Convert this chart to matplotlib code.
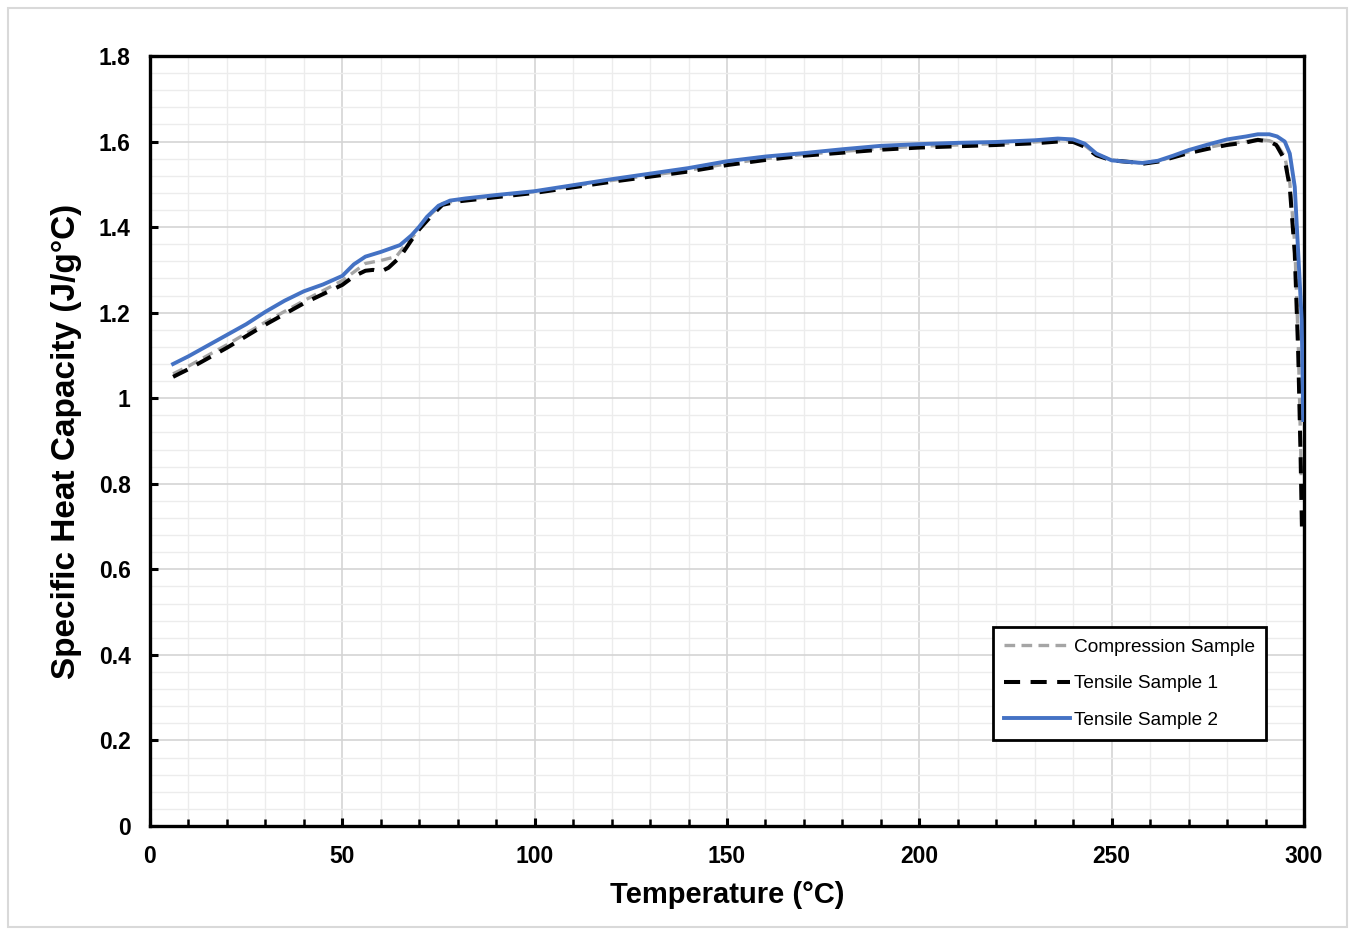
import matplotlib
matplotlib.use("Agg")
import matplotlib.pyplot as plt
from matplotlib.ticker import MultipleLocator, FuncFormatter
from matplotlib.patches import Rectangle

plt.rcParams['font.family'] = ['Liberation Sans', 'DejaVu Sans']

# ---- data ----
t2_T = [6, 10, 15, 20, 25, 30, 35, 40, 45, 50, 53, 56, 60, 65, 68, 70, 72, 75, 78, 82,
        90, 100, 110, 120, 130, 140, 150, 160, 170, 180, 190, 200, 210, 220, 230, 236,
        240, 243, 246, 250, 255, 258, 262, 266, 270, 275, 280, 285, 288, 291, 293, 295,
        296.3, 297.6, 298.5, 299.4, 299.8]
t2_Cp = [1.080, 1.098, 1.123, 1.148, 1.173, 1.202, 1.228, 1.250, 1.266, 1.286, 1.313, 1.331,
         1.342, 1.358, 1.381, 1.401, 1.424, 1.450, 1.462, 1.467,
         1.475, 1.484, 1.498, 1.512, 1.525, 1.538, 1.554, 1.565, 1.573, 1.582, 1.590, 1.594,
         1.597, 1.599, 1.603, 1.607, 1.605, 1.595, 1.572, 1.556, 1.552, 1.550, 1.555, 1.567,
         1.580, 1.593, 1.605, 1.612, 1.617, 1.617, 1.612, 1.600,
         1.572, 1.494, 1.339, 1.183, 0.949]

t1_T = [6, 10, 20, 30, 40, 50, 53, 56, 58, 60, 62, 65, 68, 70, 73, 76, 80, 90, 100, 110,
        120, 130, 140, 150, 160, 170, 180, 190, 200, 210, 220, 230, 236, 240, 243, 246,
        250, 255, 258, 262, 266, 270, 275, 280, 285, 288, 291, 292.8, 295, 296.3, 297.6,
        298.5, 299.1, 299.5]
t1_Cp = [1.050, 1.068, 1.118, 1.172, 1.222, 1.265, 1.285, 1.298, 1.300, 1.296, 1.305, 1.330,
         1.370, 1.395, 1.425, 1.452, 1.460, 1.470, 1.480, 1.493, 1.506, 1.518, 1.530, 1.545,
         1.557, 1.567, 1.574, 1.581, 1.586, 1.589, 1.592, 1.596, 1.600, 1.599, 1.588, 1.568,
         1.556, 1.552, 1.548, 1.553, 1.563, 1.573, 1.583, 1.592, 1.598, 1.604, 1.600, 1.592,
         1.557, 1.494, 1.339, 1.105, 0.871, 0.680]

cs_T = [6, 10, 20, 30, 40, 50, 53, 56, 60, 64, 67, 70, 73, 76, 80, 90, 100, 110, 120, 130,
        140, 150, 160, 170, 180, 190, 200, 210, 220, 230, 236, 240, 243, 246, 250, 255,
        258, 262, 266, 270, 275, 280, 285, 288, 291, 292.8, 295, 296.3, 297.6, 298.5,
        299.3]
cs_Cp = [1.057, 1.075, 1.125, 1.178, 1.228, 1.275, 1.295, 1.315, 1.322, 1.331, 1.365, 1.395,
         1.430, 1.455, 1.462, 1.473, 1.483, 1.496, 1.509, 1.521, 1.533, 1.548, 1.560, 1.570,
         1.577, 1.584, 1.589, 1.592, 1.595, 1.599, 1.603, 1.602, 1.591, 1.570, 1.557, 1.553,
         1.549, 1.554, 1.565, 1.576, 1.586, 1.595, 1.600, 1.605, 1.602, 1.595, 1.565, 1.505,
         1.360, 1.130, 0.820]

series_labels = ["Compression Sample", "Tensile Sample 1", "Tensile Sample 2"]
x_ticks = [0, 50, 100, 150, 200, 250, 300]
y_ticks = [0, 0.2, 0.4, 0.6, 0.8, 1.0, 1.2, 1.4, 1.6, 1.8]

# ---- figure ----
fig = plt.figure(figsize=(13.55, 9.35), dpi=100)
fig.patches.append(Rectangle((8/1355, 8/935), 1 - 16/1355, 1 - 16/935,
                             transform=fig.transFigure, fill=False,
                             edgecolor='#d9d9d9', linewidth=1.5))
ax = fig.add_axes([150/1355, 1 - 826/935, 1154/1355, 770/935])

ax.plot(cs_T, cs_Cp, color='#a5a5a5', linewidth=2.4, dashes=(3.2, 1.9),
        label=series_labels[0], zorder=3)
ax.plot(t1_T, t1_Cp, color='black', linewidth=2.9, dashes=(4.0, 2.6),
        label=series_labels[1], zorder=4)
ax.plot(t2_T, t2_Cp, color='#4472c4', linewidth=2.8, label=series_labels[2], zorder=5)

ax.set_xlim(0, 300)
ax.set_ylim(0, 1.8)
ax.set_xticks(x_ticks)
ax.set_yticks(y_ticks)
ax.xaxis.set_minor_locator(MultipleLocator(10))
ax.yaxis.set_minor_locator(MultipleLocator(0.04))
ax.yaxis.set_major_formatter(FuncFormatter(lambda v, p: ('%g' % round(v, 2))))
ax.xaxis.set_major_formatter(FuncFormatter(lambda v, p: '%d' % v))

ax.grid(which='major', color='#d4d4d4', linewidth=1.2, zorder=0)
ax.grid(which='minor', color='#ececec', linewidth=1.0, zorder=0)
ax.set_axisbelow(True)

ax.tick_params(axis='both', which='major', direction='in', length=6, width=2.2,
               labelsize=16.5, colors='black')
ax.tick_params(axis='x', which='major', pad=14)
ax.tick_params(axis='y', which='major', pad=14)
ax.tick_params(axis='x', which='minor', direction='in', length=5, width=1.8)
ax.tick_params(axis='y', which='minor', length=0)
for lab in ax.get_xticklabels() + ax.get_yticklabels():
    lab.set_fontweight('bold')

for s in ax.spines.values():
    s.set_linewidth(2.4)
    s.set_color('black')

ax.set_xlabel("Temperature (°C)", fontsize=21, fontweight='bold', labelpad=9)
ax.set_ylabel("Specific Heat Capacity (J/g°C)", fontsize=24, fontweight='bold', labelpad=12)

leg = ax.legend(loc='lower left', bbox_to_anchor=(0.7305, 0.1117, 0.2365, 0.1467),
                mode='expand', fontsize=13.7, handlelength=3.45, handletextpad=0.2,
                labelspacing=1.0, borderpad=0.6, fancybox=False, framealpha=1,
                edgecolor='black', borderaxespad=0)
leg.get_frame().set_linewidth(2.0)

fig.savefig("out.png", dpi=100)
